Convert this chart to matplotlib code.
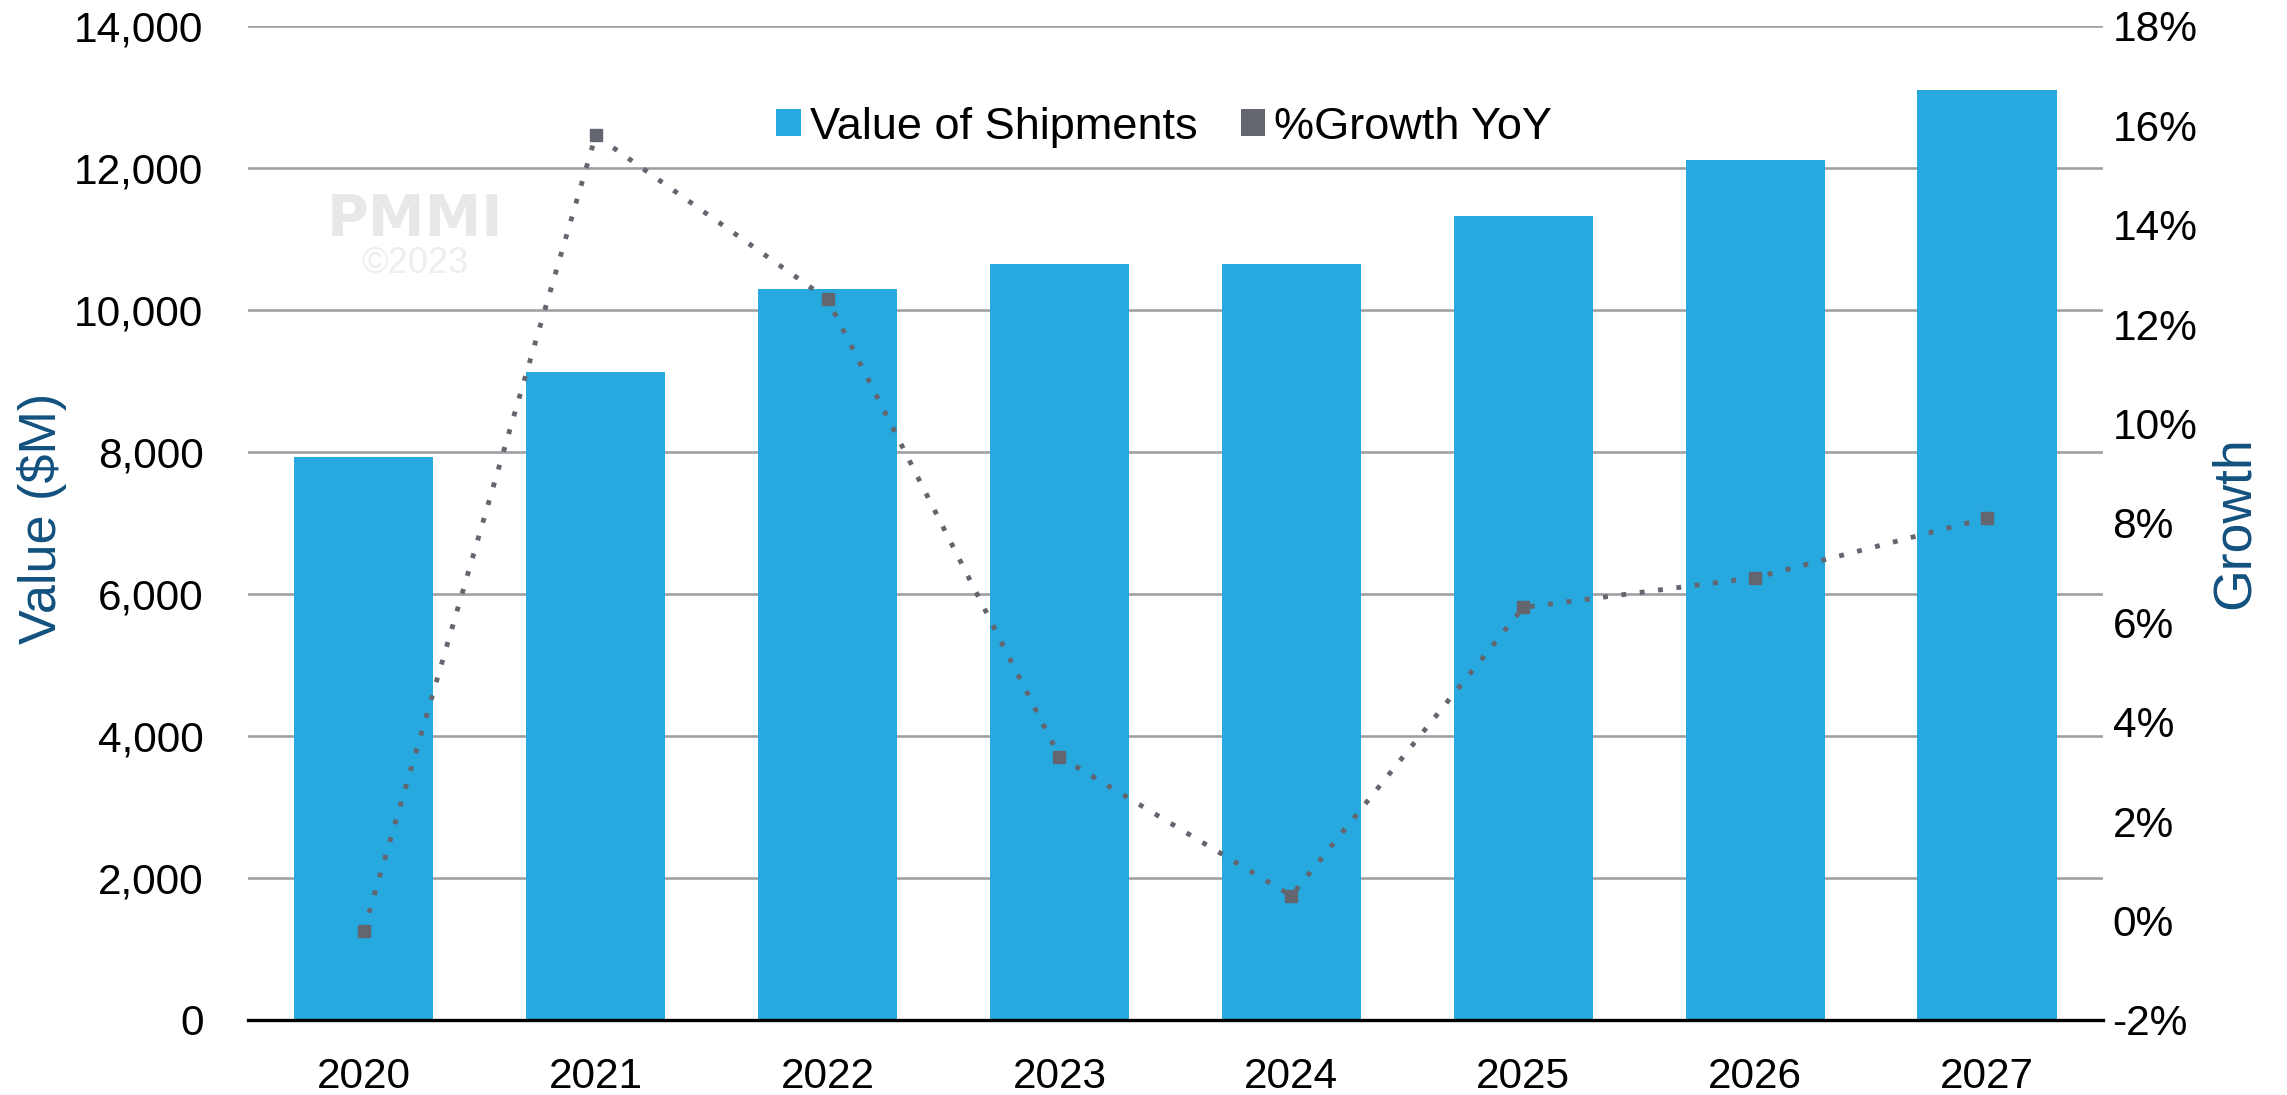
import numpy as np
import matplotlib
matplotlib.use('Agg')
import matplotlib.pyplot as plt
from matplotlib.patches import Patch
from matplotlib.ticker import FuncFormatter, MultipleLocator

plt.rcParams['font.family'] = ['Liberation Sans', 'DejaVu Sans']

# values
years = ['2020', '2021', '2022', '2023', '2024', '2025', '2026', '2027']
shipments = [7930, 9130, 10300, 10650, 10650, 11330, 12110, 13100]   # $M
growth = [-0.2, 15.8, 12.5, 3.3, 0.5, 6.3, 6.9, 8.1]                  # % YoY

barColor = '#27a8df'
lineColor = '#63666e'
labelColor = '#12507e'
gridColor = '#a0a0a4'

fig = plt.figure(figsize=(22.87, 10.95), dpi=100)
ax = fig.add_axes([0.1084, 0.0685, 0.8111, 0.9078])
x = np.arange(len(years))

ax.bar(x, shipments, width=0.6, color=barColor, zorder=2)
ax.set_xlim(-0.5, len(years) - 0.5)
ax.set_ylim(0, 14000)
ax.yaxis.set_major_locator(MultipleLocator(2000))
ax.yaxis.set_major_formatter(FuncFormatter(lambda v, p: f'{v:,.0f}'))
ax.set_xticks(x)
ax.set_xticklabels(years)
ax.grid(axis='y', color=gridColor, linewidth=1.9, zorder=0)
ax.set_axisbelow(True)
for side in ['top', 'left', 'right']:
    ax.spines[side].set_visible(False)
ax.spines['bottom'].set_color('black')
ax.spines['bottom'].set_linewidth(2.4)
ax.spines['bottom'].set_zorder(3)
ax.tick_params(axis='y', length=0, pad=32, labelsize=30.5)
ax.tick_params(axis='x', length=0, pad=27, labelsize=30.5)

ax2 = ax.twinx()
ax2.plot(x, growth, color=lineColor, linewidth=3.5, linestyle=(0, (1, 2.8)),
         dash_capstyle='butt', marker='s', markersize=9, zorder=4)
ax2.set_ylim(-2, 18)
ax2.yaxis.set_major_locator(MultipleLocator(2))
ax2.yaxis.set_major_formatter(FuncFormatter(lambda v, p: f'{v:.0f}%'))
for side in ['top', 'left', 'right', 'bottom']:
    ax2.spines[side].set_visible(False)
ax2.tick_params(axis='y', length=0, pad=7, labelsize=30.5)

fig.text(0.0184, 0.527, 'Value ($M)', rotation=90, ha='center', va='center',
         fontsize=37.5, color=labelColor)
fig.text(0.977, 0.5224, 'Growth', rotation=90, ha='center', va='center',
         fontsize=38.5, color=labelColor)

# watermark
ax.text(0.0902, 0.804, 'PMMI', transform=ax.transAxes, ha='center', va='center',
        fontsize=41, fontweight='bold', family='DejaVu Sans', color='#e7e8ea', zorder=1)
ax.text(0.0902, 0.761, '\u00a92023', transform=ax.transAxes, ha='center', va='center',
        fontsize=26, color='#eeeeef', zorder=1)

handles = [Patch(facecolor=barColor, edgecolor='none', label='Value of Shipments'),
           Patch(facecolor=lineColor, edgecolor='none', label='%Growth YoY')]
ax2.legend(handles=handles, loc='center', bbox_to_anchor=(0.494, 0.898), ncol=2,
           frameon=False, fontsize=32.5, handlelength=0.55, handleheight=0.55,
           handletextpad=0.2, columnspacing=0.95, borderpad=0)

fig.savefig('out.png', dpi=100)
